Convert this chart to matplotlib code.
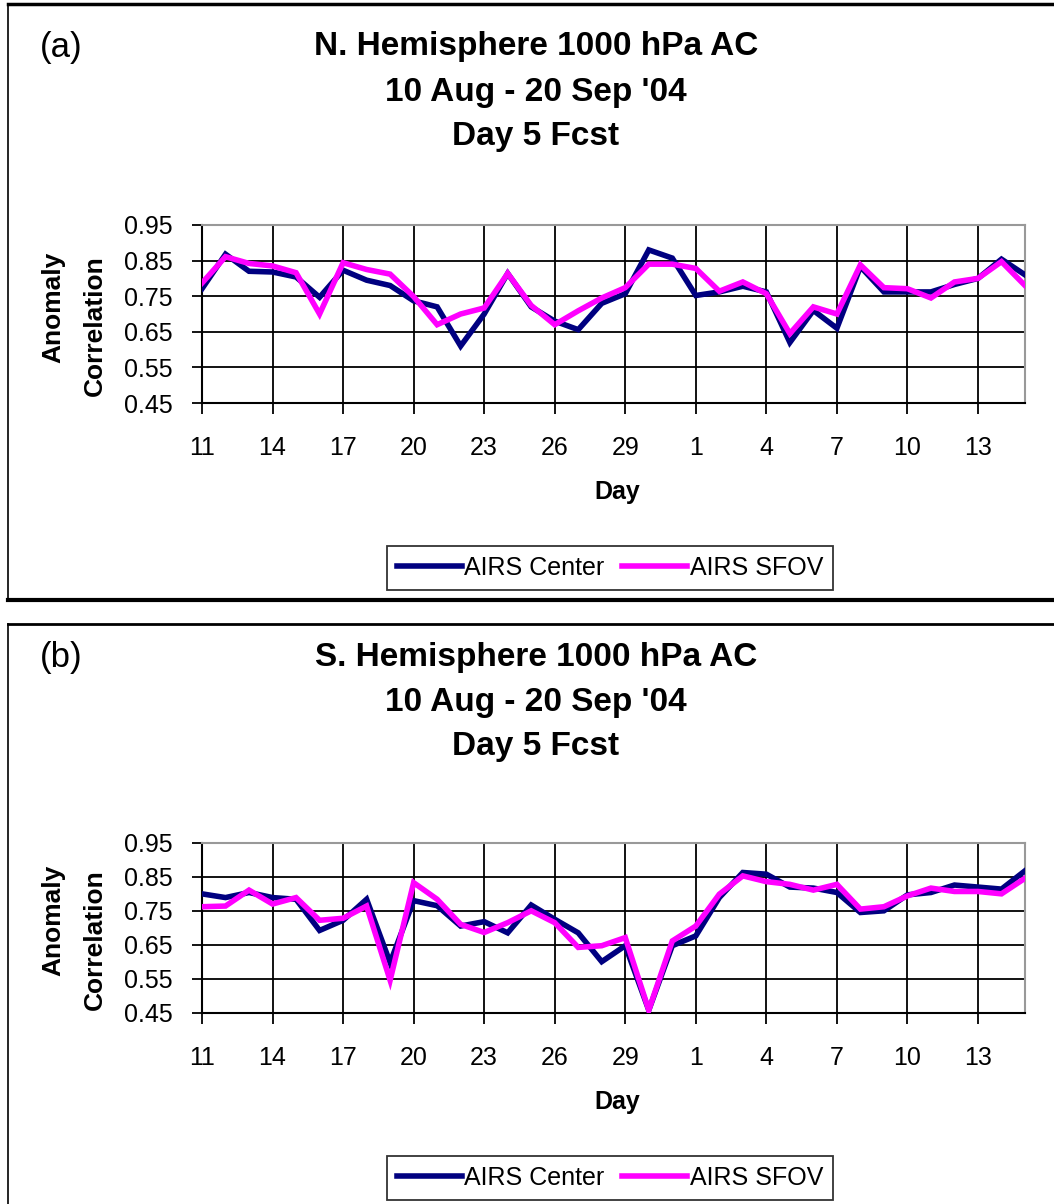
import matplotlib
matplotlib.use('Agg')
import matplotlib.pyplot as plt
from matplotlib import font_manager
from matplotlib.lines import Line2D

# Days 11 Aug .. 15 Sep
days = [11, 12, 13, 14, 15, 16, 17, 18, 19, 20, 21, 22, 23, 24, 25, 26, 27, 28, 29, 30, 31,
        1, 2, 3, 4, 5, 6, 7, 8, 9, 10, 11, 12, 13, 14, 15]

nh_center = [0.771, 0.868, 0.820, 0.818, 0.804, 0.747, 0.823, 0.795, 0.780, 0.737, 0.720, 0.610,
             0.700, 0.814, 0.720, 0.680, 0.656, 0.730, 0.757, 0.880, 0.857, 0.752, 0.762, 0.778,
             0.762, 0.620, 0.710, 0.660, 0.833, 0.762, 0.762, 0.762, 0.783, 0.800, 0.854, 0.810]
nh_sfov = [0.787, 0.861, 0.842, 0.835, 0.816, 0.700, 0.844, 0.825, 0.812, 0.749, 0.670, 0.700,
           0.717, 0.814, 0.724, 0.670, 0.709, 0.745, 0.774, 0.840, 0.840, 0.828, 0.764, 0.790,
           0.757, 0.645, 0.720, 0.700, 0.838, 0.774, 0.771, 0.745, 0.790, 0.800, 0.847, 0.780]

sh_center = [0.800, 0.789, 0.804, 0.789, 0.784, 0.692, 0.722, 0.784, 0.597, 0.780, 0.765, 0.705,
             0.718, 0.685, 0.767, 0.725, 0.685, 0.600, 0.647, 0.457, 0.647, 0.676, 0.789, 0.863,
             0.858, 0.820, 0.817, 0.804, 0.745, 0.750, 0.797, 0.804, 0.826, 0.820, 0.814, 0.868]
sh_sfov = [0.762, 0.764, 0.811, 0.770, 0.789, 0.722, 0.728, 0.764, 0.545, 0.833, 0.784, 0.710,
           0.686, 0.715, 0.750, 0.715, 0.642, 0.647, 0.671, 0.457, 0.661, 0.705, 0.799, 0.853,
           0.836, 0.828, 0.811, 0.828, 0.755, 0.762, 0.794, 0.817, 0.807, 0.807, 0.800, 0.846]

yticks = [0.45, 0.55, 0.65, 0.75, 0.85, 0.95]
series_names = ['AIRS Center', 'AIRS SFOV']
series_colors = ['#000080', '#FF00FF']

# pick a font that exists
names = {f.name for f in font_manager.fontManager.ttflist}
FONT = 'Liberation Sans' if 'Liberation Sans' in names else 'DejaVu Sans'
plt.rcParams['font.family'] = [FONT, 'DejaVu Sans']

W, H = 1054, 1204
fig = plt.figure(figsize=(W / 100, H / 100), dpi=100)


def fx(px):
    return px / W


def fy(py):
    return 1 - py / H


def panel(top, bottom, off, letter, hemi, center, sfov):
    # off = vertical pixel offset of the panel texts
    ax = fig.add_axes([fx(202), fy(bottom), fx(1025) - fx(202), fy(top) - fy(bottom)])
    x = list(range(len(days)))
    ax.plot(x, center, color=series_colors[0], lw=4.0, label=series_names[0], zorder=3,
            solid_joinstyle='miter')
    ax.plot(x, sfov, color=series_colors[1], lw=4.0, label=series_names[1], zorder=4,
            solid_joinstyle='miter')

    ax.set_xlim(0, len(days) - 1)
    ax.set_ylim(0.45, 0.95)
    ax.set_yticks(yticks)
    ax.set_yticklabels(['%.2f' % v for v in yticks])
    ax.set_xticks(x[::3])
    ax.set_xticklabels([str(d) for d in days[::3]])
    ax.grid(True, color='black', lw=1.3)
    ax.set_axisbelow(True)
    ax.tick_params(axis='y', direction='out', length=7, width=1.3, pad=14, labelsize=18)
    ax.tick_params(axis='x', direction='out', length=8, width=1.3, pad=16, labelsize=18)
    for s in ['left', 'bottom']:
        ax.spines[s].set_color('black')
        ax.spines[s].set_linewidth(1.5)
    for s in ['top', 'right']:
        ax.spines[s].set_color('#999999')
        ax.spines[s].set_linewidth(1.5)

    # titles and labels
    fig.text(fx(61), fy(48 + off), letter, fontsize=25, ha='center', va='center')
    fig.text(fx(536), fy(47 + off), hemi + ' 1000 hPa AC', fontsize=24, fontweight='bold',
             ha='center', va='center')
    fig.text(fx(536), fy(93 + off), "10 Aug - 20 Sep '04", fontsize=24, fontweight='bold',
             ha='center', va='center')
    fig.text(fx(536), fy(137 + off), 'Day 5 Fcst', fontsize=24, fontweight='bold',
             ha='center', va='center')
    mid = (top + bottom) / 2
    fig.text(fx(53), fy(mid - 7), 'Anomaly', fontsize=19, fontweight='bold', rotation=90,
             ha='center', va='center')
    fig.text(fx(95), fy(mid + 12), 'Correlation', fontsize=19, fontweight='bold', rotation=90,
             ha='center', va='center')
    fig.text(fx(617), fy(492 + off), 'Day', fontsize=18, fontweight='bold',
             ha='center', va='center')

    # legend below
    leg = fig.legend(handles=ax.get_lines(), loc='center', ncol=2, fontsize=18,
                     bbox_to_anchor=(fx(610), fy(568 + off)), frameon=True, fancybox=False,
                     handlelength=2.6, handletextpad=0.1, columnspacing=0.7,
                     borderpad=0.4, borderaxespad=0)
    leg.get_frame().set_edgecolor('black')
    leg.get_frame().set_linewidth(1.3)
    return ax


panel(225, 403, 0, '(a)', 'N. Hemisphere', nh_center, nh_sfov)
panel(843, 1012.5, 610, '(b)', 'S. Hemisphere', sh_center, sh_sfov)

# panel borders
fig.add_artist(Line2D([fx(8), 1], [fy(4), fy(4)], color='black', lw=2.5))
fig.add_artist(Line2D([fx(8), fx(8)], [fy(4), fy(600)], color='black', lw=1.2))
fig.add_artist(Line2D([fx(8), 1], [fy(600), fy(600)], color='black', lw=3))
fig.add_artist(Line2D([fx(8), 1], [fy(624), fy(624)], color='black', lw=2))
fig.add_artist(Line2D([fx(8), fx(8)], [fy(624), 0], color='black', lw=1.2))

fig.savefig('out.png', dpi=100, facecolor='white')
